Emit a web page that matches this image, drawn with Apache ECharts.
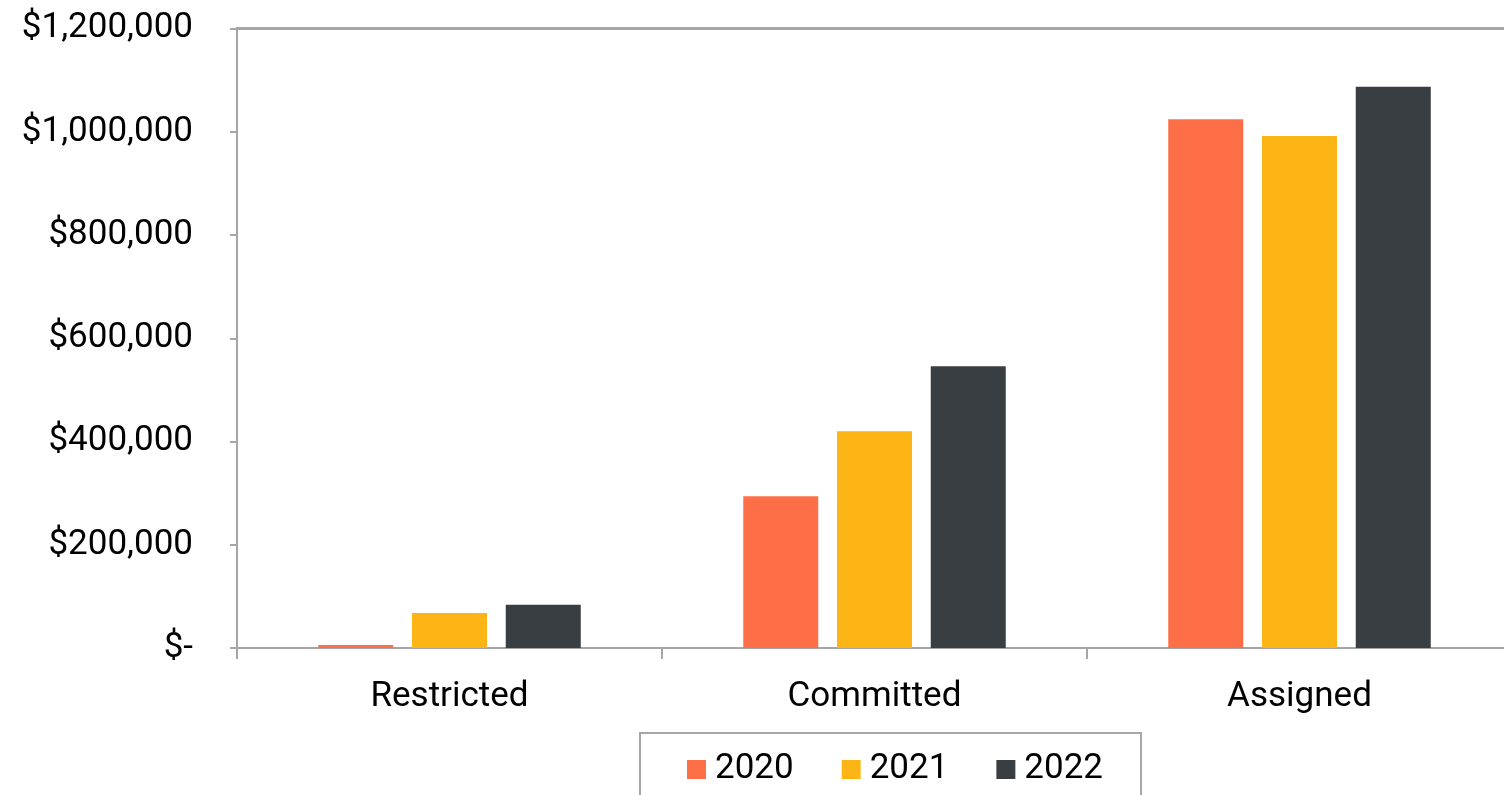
<!DOCTYPE html>
<html><head><meta charset="utf-8">
<script src="https://cdn.jsdelivr.net/npm/echarts@6/dist/echarts.min.js"></script>
<style>html,body{margin:0;padding:0;background:#fff}#c{width:1504px;height:795px}</style>
</head><body><div id="c"></div>
<script>
const categories = ['Restricted', 'Committed', 'Assigned'];
const years = ['2020', '2021', '2022'];
const values2020 = [5800, 294000, 1024000];
const values2021 = [67800, 420000, 992000];
const values2022 = [84000, 546000, 1087000];
const yTicks = [0, 200000, 400000, 600000, 800000, 1000000, 1200000];
const colors = ['#FF6F47', '#FDB515', '#393E42'];

const font = 'Roboto';
const axisGray = '#A6A6A6';
function fmt(v) {
  if (v === 0) return '$-';
  return '$' + v.toString().replace(/\B(?=(\d{3})+(?!\d))/g, ',');
}
const chart = echarts.init(document.getElementById('c'), null, {renderer: 'canvas'});
const seriesVals = [values2020, values2021, values2022];
chart.setOption({
  animation: false,
  color: colors,
  grid: {left: 237, top: 28.5, right: -8, bottom: 147, containLabel: false, outerBoundsMode: 'none'},
  legend: {
    data: years,
    left: 640, top: 733,
    itemWidth: 19, itemHeight: 19, itemGap: 48,
    icon: 'rect',
    padding: [19, 38, 60, 47],
    borderColor: axisGray, borderWidth: 2,
    textStyle: {fontFamily: font, fontSize: 35, color: '#000', padding: [0, 0, 0, 4]}
  },
  xAxis: [{
    type: 'category', data: categories, position: 'bottom',
    axisLine: {lineStyle: {color: axisGray, width: 2}},
    axisTick: {show: true, length: 11, lineStyle: {color: axisGray, width: 2}},
    axisLabel: {fontFamily: font, fontSize: 35, color: '#000', margin: 32},
    splitLine: {show: false}
  }, {
    type: 'category', data: categories, position: 'top',
    axisLine: {lineStyle: {color: axisGray, width: 3}},
    axisTick: {show: false}, axisLabel: {show: false}
  }],
  yAxis: {
    type: 'value', min: 0, max: 1200000, interval: 200000,
    axisLine: {show: true, lineStyle: {color: axisGray, width: 2}},
    axisTick: {show: true, length: 7, lineStyle: {color: axisGray, width: 2}},
    axisLabel: {fontFamily: font, fontSize: 35, color: '#000', margin: 44, formatter: fmt},
    splitLine: {show: false}
  },
  series: years.map((y, i) => ({
    name: y, type: 'bar', data: seriesVals[i],
    barWidth: 75, barGap: '25%',
    itemStyle: {color: colors[i]}
  }))
});
</script></body></html>
